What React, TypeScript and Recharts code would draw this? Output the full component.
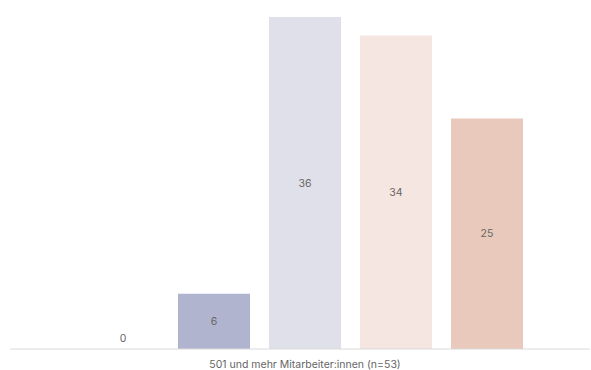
import { BarChart, Bar, XAxis, YAxis } from "recharts";

const categories = ["501 und mehr Mitarbeiter:innen (n=53)"];
const seriesKeys = ["s1", "s2", "s3", "s4", "s5"];
const seriesValues = [[0], [6], [36], [34], [25]];
const seriesColors = ["#7c82a8", "#b0b4cf", "#e0e0eb", "#f5e6e1", "#e8c9bb"];

const data = categories.map((category, i) => {
  const row: Record<string, string | number> = { category };
  seriesKeys.forEach((key, k) => {
    row[key] = seriesValues[k][i];
  });
  return row;
});

const FONT = "Inter, 'Noto Sans', sans-serif";

// Wert mittig im Balken; bei sehr flachen Balken etwas darüber
const renderValue = (props: any) => {
  const { x, y, width, height, value } = props;
  const cx = Number(x) + Number(width) / 2;
  const h = Number(height) || 0;
  const cy = h < 20 ? Number(y) + h - 11 : Number(y) + h / 2;
  return (
    <text
      x={cx}
      y={cy}
      textAnchor="middle"
      dominantBaseline="central"
      fontSize={10.5}
      fill="#666666"
      fontFamily={FONT}
    >
      {value}
    </text>
  );
};

export default function App() {
  return (
    <div style={{ position: "absolute", top: 0, left: 0 }}>
      <BarChart
        width={591}
        height={370}
        data={data}
        margin={{ top: 17, right: 1, left: 10, bottom: 0 }}
        barCategoryGap={67}
        barGap={19}
      >
        <XAxis
          dataKey="category"
          height={21}
          padding={{ left: 10, right: 0 }}
          tickLine={false}
          axisLine={{ stroke: "#d9d9d9" }}
          tick={{ fontSize: 10.5, fill: "#666666", fontFamily: FONT, dy: 4 }}
        />
        <YAxis hide domain={[0, "dataMax"]} />
        {seriesKeys.map((key, k) => (
          <Bar
            key={key}
            dataKey={key}
            fill={seriesColors[k]}
            minPointSize={(v: number) => (v === 0 ? 0.01 : 0)}
            isAnimationActive={false}
            label={renderValue}
          />
        ))}
      </BarChart>
    </div>
  );
}
